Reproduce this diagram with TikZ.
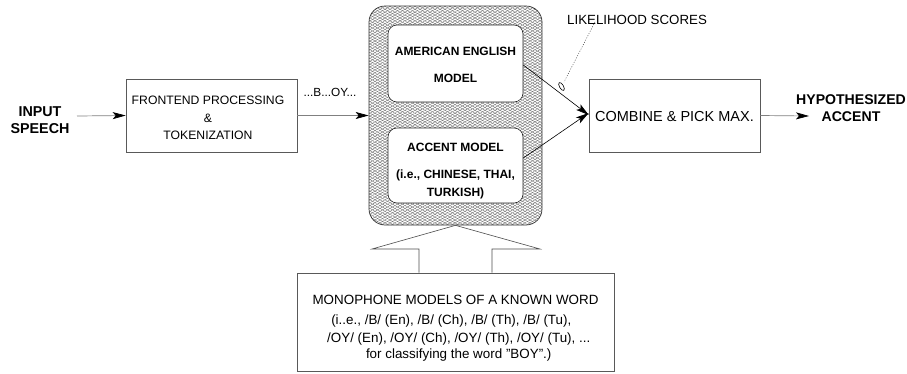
\documentclass[tikz,border=0pt]{standalone}
\usepackage{fontspec}
\setmainfont{Liberation Sans}
\usetikzlibrary{arrows.meta,patterns.meta,shapes.geometric}
\tikzset{
  plainbox/.style={draw=black!65, line width=0.6pt, rectangle, inner sep=0pt},
  innerbox/.style={draw=black!85, fill=white, line width=0.6pt, rounded corners=9pt, inner sep=0pt},
  txt/.style={inner sep=0pt, align=center},
  flow/.style={draw=black!50, line width=0.7pt, -{Stealth[length=13pt,width=7pt,inset=3pt,black]}},
  solidflow/.style={draw=black, line width=0.6pt, -{Stealth[length=13pt,width=7pt,inset=3pt,black]}},
  outline/.style={draw=black!70, line width=0.6pt},
}
\newcommand{\fsz}[1]{\fontsize{#1}{#1}\selectfont}
\begin{document}
\begin{tikzpicture}[x=1pt,y=-1pt]
\useasboundingbox (0,0) rectangle (907,373);
% input text
\node[txt, font=\bfseries\fsz{14.3}] (inp) at (40,120) {INPUT\\[2pt]SPEECH};
% frontend box
\node[plainbox, minimum width=171pt, minimum height=73pt] (fe) at (211.5,115.5) {};
\node[txt, font=\fsz{12.2}] (fet) at (208,117.5) {FRONTEND PROCESSING\\[6pt]\&\\[5pt]TOKENIZATION};
\node[txt, font=\fsz{11.8}] (boy) at (330,92) {...B...OY...};
% hatched model box
\path[pattern={Lines[angle=30,distance=2.5pt,line width=0.35pt]}, pattern color=black!60]
  (369,6) [rounded corners=16pt] rectangle (542,225);
\path[pattern={Lines[angle=-30,distance=2.5pt,line width=0.35pt]}, pattern color=black!60]
  (369,6) [rounded corners=16pt] rectangle (542,225);
\node[draw=black!80, line width=0.7pt, rounded corners=16pt, minimum width=173pt, minimum height=219pt, inner sep=0pt] (hatch) at (455.5,115.5) {};
% inner boxes
\node[innerbox, minimum width=135pt, minimum height=77pt] (am) at (455.5,63.5) {};
\node[txt, font=\bfseries\fsz{12}] (amt) at (455.5,65) {AMERICAN ENGLISH\\[15pt]MODEL};
\node[innerbox, minimum width=135pt, minimum height=75pt] (acc) at (455.5,165.5) {};
\node[txt, font=\bfseries\fsz{12}] (acct) at (455.5,171.5) {ACCENT MODEL\\[15pt](i.e., CHINESE, THAI,\\[6pt]TURKISH)};
% combine box
\node[plainbox, minimum width=171pt, minimum height=73pt] (comb) at (674.5,115.5) {};
\node[txt, font=\fsz{14.5}] (combt) at (674.5,117) {COMBINE \& PICK MAX.};
% output text
\node[txt, font=\bfseries\fsz{14.1}] (outt) at (851,108) {HYPOTHESIZED\\[3pt]ACCENT};
% likelihood label
\node[txt, font=\fsz{13.3}, anchor=west] (lik) at (567,20) {LIKELIHOOD SCORES};
% bottom box
\node[plainbox, minimum width=317pt, minimum height=98pt] (mono) at (455.5,322) {};
\node[txt, font=\fsz{13.4}] (monot) at (455.5,300) {MONOPHONE MODELS OF A KNOWN WORD};
\node[txt, font=\fsz{13.4}] (monol) at (455,338) {(i..e., /B/ (En), /B/ (Ch), /B/ (Th), /B/ (Tu),\ \ \ \\[5pt]\ \ /OY/ (En), /OY/ (Ch), /OY/ (Th), /OY/ (Tu), ...\\[3pt]\ \ for classifying the word \symbol{34}BOY\symbol{34}.)};
% connectors
\draw[flow] (77,116) -- (fe.west);
\draw[flow] (fe.east) -- (hatch.west);
\draw[solidflow] ([yshift=-1.5pt]am.east) -- ([yshift=0.5pt]comb.west);
\draw[solidflow] ([yshift=7.5pt]acc.east) -- ([yshift=2.5pt]comb.west);
\draw[flow] (comb.east) -- (809,116);
% likelihood leader
\coordinate (tip) at (564,82);
\draw[black!70, line width=0.5pt, dash pattern=on 1pt off 1.5pt] ([xshift=28pt,yshift=3pt]lik.south west) -- (tip);
\draw[black, line width=0.6pt, rotate around={-60:(561.5,86.5)}] (561.5,86.5) ellipse (4.5pt and 2pt);
% block arrow up
\draw[outline] (mono.north -| 419,0) -- (419,249) -- (372,249) -- (hatch.south) -- (540,249) -- (492,249) -- (mono.north -| 492,0);
\end{tikzpicture}
\end{document}
